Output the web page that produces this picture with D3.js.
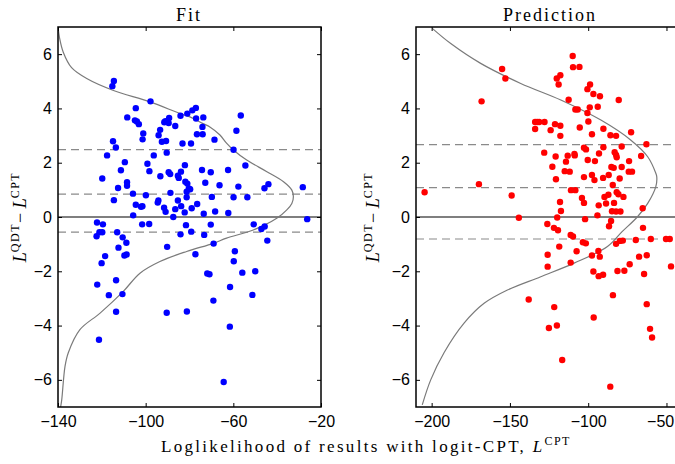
<!DOCTYPE html>
<html><head><meta charset="utf-8">
<script src="https://cdn.jsdelivr.net/npm/d3@7"></script>
<style>
body{margin:0;background:#fff;}
svg text{fill:#000;}
.tick text{font-family:"Liberation Sans",Arial,sans-serif;font-size:16px;}
.serif{font-family:"Liberation Serif","DejaVu Serif",serif;}
</style></head>
<body><svg id="c" width="675" height="464"></svg>
<script>
// ---------- data ----------
const yTicks = [-6,-4,-2,0,2,4,6];
const fitXTicks = [-140,-100,-60,-20];
const predXTicks = [-200,-150,-100,-50];

const fitX = [-114.5,-115.2,-97.8,-104.5,-108.4,-104.9,-104.0,-103.1,-101.1,-101.4,
-114.9,-113.6,-117.6,-109.5,-111.3,-119.8,-108.5,-108.5,-112.6,-105.8,
-114.5,-104.5,-102.1,-101.5,-105.7,-99.9,-99.2,-98.3,-96.3,-94.1,
-93.4,-92.6,-90.7,-91.5,-91.0,-89.5,-89.3,-86.5,-84.1,-81.0,
-78.7,-77.1,-77.0,-73.7,-74.1,-76.6,-74.0,-68.6,-83.2,-79.3,
-90.4,-82.1,-83.9,-89.5,-88.8,-93.3,-85.3,-84.9,-81.9,-81.0,
-80.3,-79.7,-81.3,-88.7,-81.3,-85.3,-94.2,-94.5,-83.8,-86.5,
-91.6,-90.9,-87.4,-82.2,-79.0,-76.5,-74.3,-72.8,-70.3,-69.8,
-73.5,-68.3,-66.3,-62.4,-62.3,-59.9,-57.7,-53.6,-54.5,-59.9,
-58.6,-56.6,-45.8,-44.0,-28.3,-26.3,
-122.2,-119.5,-101.6,-98.4,-81.6,-70.3,-50.7,-47.2,-45.7,-122.4,
-121.1,-119.8,-113.0,-110.5,-108.8,-112.4,-109.7,-108.7,-118.5,-120.1,
-122.1,-113.5,-116.8,-110.6,-113.5,-121.3,-84.1,-79.2,-73.3,-69.0,
-90.2,-77.3,-90.4,-81.2,-71.9,-70.9,-69.1,-59.3,-59.8,-61.5,
-55.9,-50.0,-51.3,-61.6,-64.4,-44.5];
const fitY = [5.01,4.82,4.26,4.01,3.67,3.56,3.52,3.42,3.08,2.86,
2.79,2.56,2.27,2.02,1.72,1.42,1.28,1.15,1.07,0.86,
0.62,0.45,0.38,0.40,0.06,0.80,1.96,1.69,2.27,3.01,
3.21,2.77,2.80,3.49,3.53,3.46,3.65,3.35,3.73,3.81,
3.93,4.02,3.63,3.67,3.32,3.05,3.05,2.85,2.71,2.71,
2.37,1.91,1.67,1.65,1.58,1.50,1.52,1.44,1.30,1.23,
1.05,1.02,0.93,0.89,0.73,0.61,0.61,0.53,0.40,0.29,
0.34,0.19,0.00,0.17,0.32,0.48,1.73,1.26,1.65,0.74,
0.12,0.20,1.17,1.73,0.15,0.73,1.12,0.73,1.90,2.48,
3.18,3.74,1.06,1.21,1.10,-0.08,
-0.20,-0.27,-0.27,-0.26,-0.30,-0.28,-0.27,-0.44,-0.35,-0.71,
-0.56,-0.56,-0.56,-0.75,-0.95,-1.13,-1.42,-1.38,-1.44,-1.70,
-2.49,-2.33,-2.88,-2.84,-3.49,-4.52,-0.64,-0.54,-0.66,-0.98,
-1.10,-1.37,-3.53,-3.48,-2.08,-2.11,-3.08,-1.26,-1.63,-2.58,
-2.05,-2.00,-2.87,-4.04,-6.08,-0.87];

const predX = [-204.5,-169.8,-168.1,-155.0,-152.9,-148.9,-144.3,-133.9,-132.6,-131.3,
-127.9,-133.9,-128.1,-138.0,-109.9,-109.7,-105.6,-120.1,-117.8,-118.9,
-98.8,-100.5,-96.7,-92.5,-112.5,-80.5,-108.2,-106.7,-99.0,-93.9,
-100.5,-99.9,-121.2,-117.8,-124.0,-105.4,-90.3,-72.6,-117.8,-97.6,
-85.8,-82.2,-62.8,-78.6,-102.7,-101.4,-90.3,-108.8,-108.6,-113.1,
-93.1,-83.1,-82.2,-81.8,-120.8,-66.2,-100.3,-95.7,-73.9,-114.2,
-122.9,-85.2,-83.7,-78.6,-115.0,-111.8,-74.1,-72.0,-102.7,-97.6,
-96.0,-90.5,-86.9,-79.9,-120.6,-84.3,-111.0,-108.2,-81.8,-80.7,
-87.1,-104.0,-89.6,-77.5,-118.0,-102.7,-83.5,-88.6,-93.3,-65.2,
-117.4,-84.8,-82.2,-79.4,-94.1,-119.8,-102.0,-85.4,-86.7,-126.1,
-121.9,-119.3,-111.2,-109.7,-65.0,-103.4,-101.5,-118.5,-82.2,-79.7,
-77.9,-69.6,-60.0,-50.3,-47.9,-125.9,-107.4,-93.5,-97.6,-92.6,
-67.5,-62.6,-125.9,-111.2,-73.5,-47.1,-96.7,-93.3,-90.5,-81.3,
-76.9,-64.3,-84.2,-62.6,-121.7,-96.5,-125.1,-120.0,-60.5,-59.2,
-116.6,-85.9];
const predY = [0.91,1.21,4.26,5.45,5.10,0.79,-0.03,3.50,3.50,3.50,
3.50,3.24,2.37,-3.04,5.93,5.52,5.53,5.10,5.22,4.88,
4.88,4.71,4.53,4.45,4.32,4.31,3.96,3.96,4.04,4.06,
3.83,3.52,3.42,3.36,3.20,3.30,3.25,3.12,2.99,3.05,
3.01,2.99,2.68,2.60,2.55,2.49,2.57,2.32,2.27,2.26,
2.34,2.39,2.29,2.20,2.23,2.25,2.10,2.06,2.06,2.04,
1.85,1.84,1.81,1.84,1.69,1.67,1.67,1.67,1.47,1.55,
1.36,1.44,1.55,1.42,1.39,1.18,0.99,0.99,0.91,0.84,
0.82,0.70,0.74,0.74,0.55,0.52,0.52,0.50,0.43,0.32,
0.22,0.21,0.20,0.20,0.06,-0.02,-0.08,-0.15,-0.34,-0.26,
-0.40,-0.49,-0.66,-0.72,-0.40,-0.93,-0.97,-1.09,-0.99,-0.88,
-0.87,-0.85,-0.81,-0.81,-0.81,-1.39,-1.26,-1.25,-1.42,-1.46,
-1.46,-1.41,-1.83,-1.68,-1.74,-1.82,-2.01,-2.18,-2.13,-1.99,
-1.98,-2.10,-2.88,-3.21,-3.32,-3.70,-4.09,-4.00,-4.12,-4.44,
-5.27,-6.25];

// gray reference curves (x as a function of y)
const fitCurveY = [7,6.6,6.07,5.5,5.1,4.67,4.24,3.81,3.69,3.44,3.32,3.02,2.71,2.47,2.1,1.67,1.3,0.99,0.75,0.5,0.26,-0.05,-0.48,-0.78,-0.97,-1.27,-1.64,-2.07,-2.74,-3.54,-4.15,-5.0,-5.5,-6.74,-7];
const fitCurveX = [-140,-139.3,-137.6,-133.8,-126.9,-115,-98,-84.3,-79.8,-73.8,-70.7,-66.1,-63.0,-60,-53.9,-44.7,-37.1,-33.3,-32.6,-33.3,-35.6,-40.2,-50.9,-63.1,-69.1,-81.3,-93.5,-102.6,-110.2,-120.8,-130,-135.3,-136.8,-138.3,-138.8];
const predCurveY = [6.95,6.39,5.66,4.92,4.31,3.57,2.83,2.22,1.61,1.48,1.12,0.5,0.01,-0.55,-1.09,-1.7,-2.2,-2.69,-3.18,-3.91,-5.0,-6.0,-6.92];
const predCurveX = [-199.6,-187.8,-168.7,-143.1,-117.5,-91.9,-72.7,-62,-56.8,-56.2,-56.8,-62,-68.5,-78.5,-87.7,-109,-130.3,-151.6,-166.5,-179.3,-192.1,-200.6,-206];

const fitDashes = [2.48, 0.84, -0.56];
const predDashes = [2.67, 1.08, -0.81];

// ---------- drawing ----------
const svg = d3.select("#c");
const yRange = [407, 27];

function panel(o){
  const x = d3.scaleLinear().domain(o.xDomain).range(o.xRange);
  const y = d3.scaleLinear().domain([-7,7]).range(yRange);
  const g = svg.append("g");
  const cid = "clip"+o.id;
  svg.append("clipPath").attr("id",cid).append("rect")
    .attr("x",o.xRange[0]).attr("y",yRange[1]).attr("width",o.xRange[1]-o.xRange[0]).attr("height",yRange[0]-yRange[1]);
  const pg = g.append("g").attr("clip-path",`url(#${cid})`);
  pg.selectAll("line.d").data(o.dashes).join("line")
    .attr("x1",o.xRange[0]).attr("x2",o.xRange[1])
    .attr("y1",d=>y(d)).attr("y2",d=>y(d))
    .attr("stroke","#8a8a8a").attr("stroke-width",1.2).attr("stroke-dasharray","8,5");
  pg.append("line").attr("x1",o.xRange[0]).attr("x2",o.xRange[1])
    .attr("y1",y(0)).attr("y2",y(0)).attr("stroke","#555").attr("stroke-width",1.3);
  const pts = o.cy.map((v,i)=>[o.cx[i],v]);
  pg.append("path").datum(pts)
    .attr("d",d3.line().x(d=>x(d[0])).y(d=>y(d[1])).curve(d3.curveCatmullRom.alpha(0.5)))
    .attr("fill","none").attr("stroke","#7a7a7a").attr("stroke-width",1.2);
  const data = o.px.map((v,i)=>[v,o.py[i]]);
  pg.selectAll("circle").data(data).join("circle")
    .attr("cx",d=>x(d[0])).attr("cy",d=>y(d[1])).attr("r",3.2).attr("fill",o.color);
  const fmt = d3.format("d");
  const bx = g.append("g").attr("transform",`translate(0,${yRange[0]})`)
    .call(d3.axisBottom(x).tickValues(o.xTicks).tickSize(-4).tickPadding(9).tickFormat(d=>fmt(d)))
    .call(s=>s.select(".domain").remove());
  // keep the last label inside the picture
  bx.selectAll(".tick text").filter(d=>x(d)+14>675).attr("text-anchor","end").attr("dx",o.lastDx||0);
  g.append("g").attr("transform",`translate(0,${yRange[1]})`)
    .call(d3.axisTop(x).tickValues(o.xTicks).tickSize(-4).tickFormat(""))
    .call(s=>s.select(".domain").remove());
  g.append("g").attr("transform",`translate(${o.xRange[0]},0)`)
    .call(d3.axisLeft(y).tickValues(yTicks).tickSize(-4).tickPadding(6).tickFormat(d=>fmt(d)))
    .call(s=>s.select(".domain").remove());
  g.append("g").attr("transform",`translate(${o.xRange[1]},0)`)
    .call(d3.axisRight(y).tickValues(yTicks).tickSize(-4).tickFormat(""))
    .call(s=>s.select(".domain").remove());
  g.selectAll(".tick line").attr("stroke","#000").attr("stroke-width",1);
  g.append("rect").attr("x",o.xRange[0]).attr("y",yRange[1])
    .attr("width",o.xRange[1]-o.xRange[0]).attr("height",yRange[0]-yRange[1])
    .attr("fill","none").attr("stroke","#000").attr("stroke-width",1.5);
  svg.append("text").attr("class","serif").attr("x",o.titleX).attr("y",21)
    .attr("text-anchor","middle").style("font-size","18px").style("letter-spacing","2px")
    .text(o.title);
  const t = svg.append("text").attr("class","serif")
    .attr("transform",`translate(${o.ylabX},217) rotate(-90)`)
    .attr("text-anchor","middle").style("font-size","18px");
  t.append("tspan").style("font-style","italic").text("L");
  t.append("tspan").attr("dy",-7).style("font-size","12px").style("letter-spacing","1.5px").text("QDT");
  t.append("tspan").attr("dy",7).text("\u2212 ");
  t.append("tspan").style("font-style","italic").text("L");
  t.append("tspan").attr("dy",-7).style("font-size","12px").style("letter-spacing","1.5px").text("CPT");
}

panel({id:"a",xDomain:[-140,-20],xRange:[58,321],xTicks:fitXTicks,px:fitX,py:fitY,
  cx:fitCurveX,cy:fitCurveY,dashes:fitDashes,color:"#0000ff",title:"Fit",titleX:189,ylabX:26});
panel({id:"b",xDomain:[-210,-42],xRange:[416,679],xTicks:predXTicks,px:predX,py:predY,
  cx:predCurveX,cy:predCurveY,dashes:predDashes,color:"#ff0000",title:"Prediction",titleX:550,ylabX:379,lastDx:"0.45em"});

const xl = svg.append("text").attr("class","serif").attr("x",366).attr("y",452)
  .attr("text-anchor","middle").style("font-size","17px").style("letter-spacing","2.3px");
xl.append("tspan").text("Loglikelihood of results with logit-CPT, ");
xl.append("tspan").style("font-style","italic").text("L");
xl.append("tspan").attr("dy",-7).style("font-size","12px").style("letter-spacing","1.5px").text("CPT");
</script></body></html>
